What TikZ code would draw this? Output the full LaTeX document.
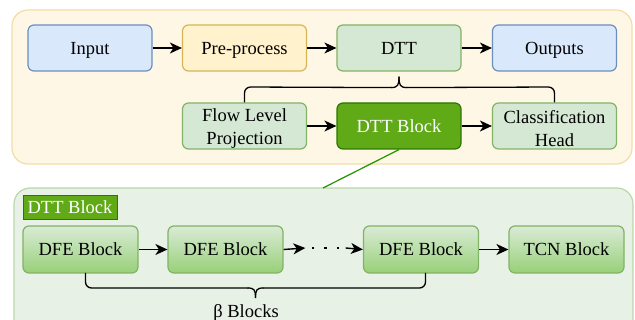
\documentclass[tikz,border=0pt]{standalone}
\usepackage{fontspec}
\setmainfont{Liberation Serif}
\newfontfamily\tnr{Liberation Serif}
\usetikzlibrary{arrows.meta,calc}
\definecolor{bluef}{HTML}{DAE8FC}
\definecolor{bluel}{HTML}{6C8EBF}
\definecolor{yelf}{HTML}{FFF2CC}
\definecolor{yell}{HTML}{D6B656}
\definecolor{grnf}{HTML}{D5E8D4}
\definecolor{grnl}{HTML}{82B366}
\definecolor{dgf}{HTML}{60A917}
\definecolor{dgl}{HTML}{2D7600}
\definecolor{topf}{HTML}{FEF7E6}
\definecolor{topl}{HTML}{F3DDA6}
\definecolor{botf}{HTML}{E8F1E6}
\definecolor{botl}{HTML}{B9D8AB}
\definecolor{gradt}{HTML}{D9EBD6}
\definecolor{gradb}{HTML}{98D078}
\tikzset{
  txt/.style={font=\tnr\fontsize{18.5}{23.5}\selectfont},
  box/.style={draw, line width=1.2pt, rounded corners=6pt, minimum width=124pt, minimum height=46pt, inner sep=0pt, align=center, txt},
  one/.style={text height=13pt, text depth=0pt},
  bluebox/.style={box, one, fill=bluef, draw=bluel},
  yelbox/.style={box, one, fill=yelf, draw=yell},
  grnbox/.style={box, fill=grnf, draw=grnl},
  darkbox/.style={box, one, fill=dgf, draw=dgl, text=white},
  dfebox/.style={box, one, top color=gradt, bottom color=gradb, draw=grnl, minimum width=115pt, minimum height=47pt},
  twotxt/.style={txt, align=center, inner sep=0pt},
  arr/.style={-{Stealth[length=12pt,width=11pt,inset=3.5pt]}, line width=1.4pt},
  brace/.style={line width=1.3pt, rounded corners=6pt},
}
\begin{document}
\begin{tikzpicture}[x=1pt,y=-1pt]
\useasboundingbox (0,0) rectangle (635,320);
% containers
\draw[fill=topf, draw=topl, line width=1.2pt, rounded corners=16pt] (12,10) rectangle (632,164);
\draw[fill=botf, draw=botl, line width=1.2pt, rounded corners=16pt] (14,188) rectangle (633,340);
% top row
\node[bluebox] (in) at (90,48) {Input};
\node[yelbox] (pre) at (244.5,48) {Pre-process};
\node[grnbox, one] (dtt) at (399,48) {DTT};
\node[bluebox] (out) at (554.5,48) {Outputs};
% second row
\node[grnbox] (fl) at (244.5,126) {};
\node[twotxt] (flt) at (244.5,128.5) {Flow Level\\Projection};
\node[darkbox] (db) at (399,126) {DTT Block};
\node[grnbox] (ch) at (554.5,126) {};
\node[twotxt] (cht) at (554.5,128.5) {Classification\\Head};
\draw[arr] (in) -- (pre);
\draw[arr] (pre) -- (dtt);
\draw[arr] (dtt) -- (out);
\draw[arr] (fl) -- (db);
\draw[arr] (db) -- (ch);
% brace top
\coordinate (tipT) at ($(dtt.south)+(0,5)$);
\draw[brace] (fl.north) -- (fl.north |- 0,87) -- ($(tipT)+(-7,11)$);
\draw[line width=1.3pt] ($(tipT)+(-8,11)$) .. controls ($(tipT)+(-1,11)$) and (tipT|-0,85) .. (tipT);
\draw[line width=1.3pt] (tipT) .. controls (tipT|-0,85) and ($(tipT)+(1,11)$) .. ($(tipT)+(8,11)$);
\draw[brace] ($(tipT)+(7,11)$) -- (ch.north |- 0,87) -- (ch.north);
% link
\coordinate (lk) at (323,188);
\draw[draw=dgl!80!green, line width=1.2pt] (db.south) -- (lk);
% bottom
\node[fill=dgf, draw=dgl, line width=0.8pt, text=white, minimum width=94pt, minimum height=24pt, inner sep=0pt, txt, one] (lab) at (70,207) {DTT Block};
\node[dfebox] (d1) at (80.5,249.5) {DFE Block};
\node[dfebox] (d2) at (225.5,249.5) {DFE Block};
\node[dfebox] (d3) at (421,249.5) {DFE Block};
\node[dfebox] (tcn) at (566.5,249.5) {TCN Block};
\node[inner sep=0pt, minimum width=40pt, minimum height=10pt] (dots) at (325.5,248) {};
\foreach \dx in {-12.5,0,12.5} \fill ($(dots.center)+(\dx-1.3,-1.3)$) rectangle +(2.6,2.6);
\draw[arr] (d1) -- (d2);
\draw[arr] (d2.east) -- (dots.west);
\draw[arr] (dots.east) -- (d3.west);
\draw[arr] (d3) -- (tcn);
% bottom brace
\coordinate (tipB) at (255.5,298);
\coordinate (bl) at (85.5,273);
\coordinate (br) at (425.5,273);
\draw[brace] (bl) -- (85.5,288) -- ($(tipB)+(-7,-10)$);
\draw[line width=1.3pt] ($(tipB)+(-8,-10)$) .. controls ($(tipB)+(-1,-10)$) and ($(tipB)+(0,-8)$) .. (tipB);
\draw[line width=1.3pt] (tipB) .. controls ($(tipB)+(0,-8)$) and ($(tipB)+(1,-10)$) .. ($(tipB)+(8,-10)$);
\draw[brace] ($(tipB)+(7,-10)$) -- (425.5,288) -- (br);
\node[txt, one, inner sep=0pt] (beta) at (246,311) {β Blocks};
\end{tikzpicture}
\end{document}
